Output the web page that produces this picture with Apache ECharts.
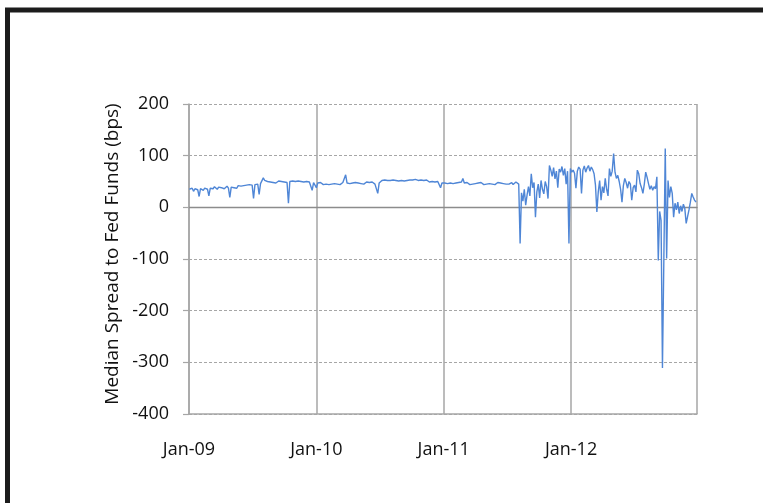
<!DOCTYPE html>
<html>
<head>
<meta charset="utf-8">
<script src="https://cdn.jsdelivr.net/npm/echarts@6/dist/echarts.min.js"></script>
<style>
html,body{margin:0;padding:0;background:#fff;}
#chart{width:763px;height:503px;}
</style>
</head>
<body>
<div id="chart"></div>
<script>
// Median spread to Fed Funds (bps), one reading every 4 days starting 2 Jan of each year
const startDay = 1;          // days after 1 Jan 2009 of the first reading
const stepDays = 4;          // days between readings
const axisMaxDay = 1456;     // 27 Dec 2012
const tickLabels = ['Jan-09', 'Jan-10', 'Jan-11', 'Jan-12'];
const yTicks = [-400, -300, -200, -100, 0, 100, 200];

const v2009 = [35,33,37,31,36,38,34,21, 36,38,33,37,39,35,22, 37,39,36,40,38,35,39,37,
  38,40,36,39,41,37,19, 39,41,38,40,37,42,39,41, 40,42,39,43,41,44,42,43,
  17,44,42,45,25,46,48, 57,52,55,50,53,49,51,48, 50,47,49,51,48,50,47,
  49,51,48,8,50,49,51,48, 50,49,51,48,50,52,49,51, 50,52,49,51,33,48,50];
const v2010 = [38,47,45,48,46,44,47,45, 46,44,47,45,43,46,44, 45,47,44,46,48,45,63,47,
  48,46,49,47,45,48,46, 47,49,46,48,45,47,49,46, 48,47,49,46,45,48,27,47,
  50,52,51,53,51,52,54, 52,51,53,50,52,54,51,53, 52,54,51,53,52,50,53,
  51,53,52,54,51,52,50,53, 51,52,50,53,51,49,52,50, 51,49,52,50,48,38,47];
const v2011 = [48,47,49,46,48,47,49,46, 48,47,45,48,46,49,56, 47,45,48,46,44,47,45,48,
  46,44,47,45,48,46,44, 47,45,43,46,48,45,47,44, 46,48,45,47,44,46,48,45,
  47,45,46,48,44,47,49, 46,45,-70,28,12,35,4,24, 40,22,65,38,48,-19,30,
  45,18,52,35,26,50,40,17, 81,72,60,77,55,70,38,74, 68,79,62,75,45,70,-70];
const v2012 = [75,68,72,66,37,70,78,74, 27,72,80,68,76,81,70, 78,73,65,43,-9,30,52,14,
  40,28,56,35,22,75,60, 70,104,68,56,62,50,35,10, 42,56,48,37,50,45,14,38,
  43,30,72,65,46,38,27, 45,68,58,46,35,42,33,40, 36,59,-103,-8,-25,-311,-100,
  114,-99,52,19,40,27,-19,8, -5,10,-12,3,-8,6,-2,-31, -18,-5,10,27,20,14,10];

const values = [].concat(v2009, v2010, v2011, v2012);
const seriesData = values.map((v, i) => [startDay + i * stepDays, v]);

const FONT = '"Open Sans", "Noto Sans", sans-serif';
const chart = echarts.init(document.getElementById('chart'), null, {renderer: 'canvas'});
chart.setOption({
  animation: false,
  backgroundColor: '#ffffff',
  grid: {left: 189, right: 66, top: 104, bottom: 89, containLabel: false},
  xAxis: [{
    type: 'value', min: 0, max: axisMaxDay, interval: 365, position: 'bottom',
    axisLine: {show: true, onZero: false, lineStyle: {color: '#a6a6a6', width: 1.5}},
    axisTick: {show: false},
    axisLabel: {
      margin: 27, fontFamily: FONT, fontSize: 18, color: '#111',
      formatter: v => (v % 365 === 0 ? tickLabels[Math.round(v / 365)] || '' : '')
    },
    splitLine: {show: true, lineStyle: {color: '#a6a6a6', width: 1.5, type: 'solid'}}
  }, {
    type: 'value', min: 0, max: axisMaxDay, position: 'bottom',
    axisLine: {show: true, onZero: true, lineStyle: {color: '#8c8c8c', width: 1.3}},
    axisTick: {show: false}, axisLabel: {show: false}, splitLine: {show: false}
  }],
  yAxis: {
    type: 'value', min: yTicks[0], max: yTicks[yTicks.length - 1], interval: 100,
    axisLine: {show: true, lineStyle: {color: '#a6a6a6', width: 1.5}},
    axisTick: {show: true, length: 6, lineStyle: {color: '#a6a6a6', width: 1.2}},
    axisLabel: {margin: 20, fontFamily: FONT, fontSize: 18, color: '#111'},
    splitLine: {show: true, lineStyle: {color: '#a6a6a6', width: 1.2, type: [3, 2]}}
  },
  series: [{
    type: 'line', xAxisIndex: 0, data: seriesData, showSymbol: false, symbol: 'none',
    lineStyle: {color: '#4f86d6', width: 1.4}, z: 5
  }],
  graphic: [
    {type: 'text', x: 113, y: 254, rotation: Math.PI / 2,
     style: {text: 'Median Spread to Fed Funds (bps)', fontFamily: FONT, fontSize: 19,
             fill: '#111', textAlign: 'center', textVerticalAlign: 'middle'}},
    {type: 'line', shape: {x1: 5, y1: 10, x2: 763, y2: 10}, style: {stroke: '#1c1c1c', lineWidth: 5}},
    {type: 'line', shape: {x1: 7.5, y1: 8, x2: 7.5, y2: 503}, style: {stroke: '#1c1c1c', lineWidth: 5}}
  ]
});
</script>
</body>
</html>
